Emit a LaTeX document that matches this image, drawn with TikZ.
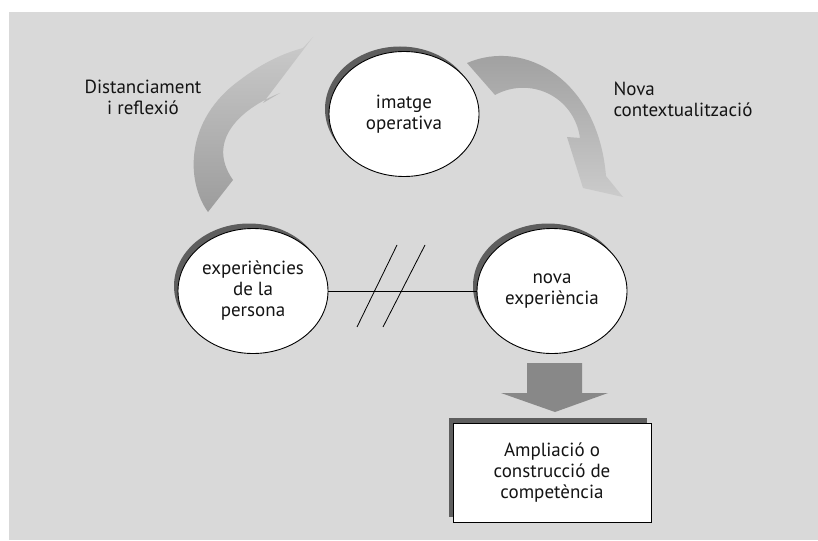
\documentclass[tikz,border=0pt]{standalone}
\usepackage{fontspec}
\setmainfont{PT Sans}
\usetikzlibrary{shapes.geometric,shadows}
\definecolor{panel}{HTML}{D9D9D9}
\definecolor{shadowgray}{HTML}{5E5E5E}
\definecolor{arrowdark}{HTML}{9C9C9C}
\definecolor{arrowlight}{HTML}{CBCBCB}
\definecolor{blockgray}{HTML}{888888}
\tikzset{
  txt/.style={font=\fontsize{19}{21}\selectfont, align=center, text=black!92},
  bubble/.style={ellipse, draw=black, line width=0.9pt, fill=white,
    minimum width=150pt, minimum height=125pt, inner sep=0pt, txt,
    drop shadow={shadow xshift=-4pt, shadow yshift=5pt, fill=shadowgray, opacity=1}},
  resultbox/.style={rectangle, draw=black, line width=0.9pt, fill=white,
    minimum width=198pt, minimum height=99pt, txt,
    drop shadow={shadow xshift=-4pt, shadow yshift=5pt, fill=shadowgray, opacity=1}},
  link/.style={draw=black, line width=0.8pt},
}
\begin{document}
\begin{tikzpicture}[x=1pt,y=-1pt]
\useasboundingbox (0,0) rectangle (818,540);
\fill[white] (0,0) rectangle (818,540);
\fill[panel] (9,12) rectangle (818,540);

% curved arrow on the left, rising towards the top bubble
\shade[top color=arrowlight, bottom color=arrowdark]
  (208,212) .. controls (186,182) and (184,120) .. (240,80)
  .. controls (262,63) and (284,53) .. (303,48)
  -- (313,37) -- (263,103) -- (280,93)
  .. controls (242,108) and (205,140) .. (233,180) -- cycle;

% curved arrow on the right, descending from the top bubble
\shade[top color=arrowdark, bottom color=arrowlight]
  (467,63) .. controls (525,38) and (598,80) .. (606,176)
  -- (623,197) -- (583,188) -- (567,137) -- (580,138)
  .. controls (574,96) and (530,76) .. (495,95) -- cycle;

% bubbles
\node[bubble] (img) at (404,114) {imatge\\operativa};
\node[bubble] (exp) at (253,291) {experiències\\de la\\persona};
\node[bubble] (nova) at (552,291) {nova\\experiència};

% broken link between the two experiences
\draw[link] (exp.east) -- (nova.west);
\draw[link] (357,327) -- (397,245);
\draw[link] (383,327) -- (425,245);

% block arrow down to the result
\fill[blockgray] (527,363) -- (582,363) -- (582,393) -- (608,393)
  -- (555,412) -- (501,393) -- (527,393) -- cycle;

% result box
\node[resultbox] (res) at (552,472.5) {Ampliació o\\construcció de\\competència};

% side labels
\node[txt] (dist) at (143,97) {Distanciament\\i reflexió};
\node[txt, align=left, anchor=west] (ctx) at (610,99) {Nova\\contextualització};
\end{tikzpicture}
\end{document}
